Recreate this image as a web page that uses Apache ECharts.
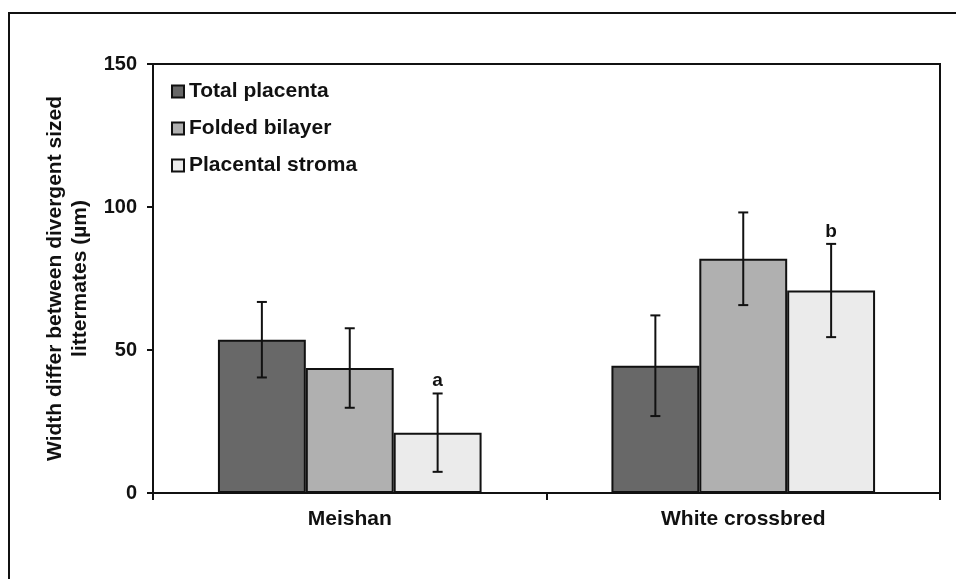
<!DOCTYPE html>
<html>
<head>
<meta charset="utf-8">
<script src="https://cdn.jsdelivr.net/npm/echarts@6/dist/echarts.min.js"></script>
<style>html,body{margin:0;padding:0;background:#fff}#c{width:956px;height:579px}</style>
</head>
<body>
<div id="c"></div>
<script>
var categories = ['Meishan', 'White crossbred'];
var seriesNames = ['Total placenta', 'Folded bilayer', 'Placental stroma'];
var totalPlacenta = [53.6, 44.5];
var totalPlacentaErr = [13.2, 17.6];
var foldedBilayer = [43.7, 81.9];
var foldedBilayerErr = [13.9, 16.2];
var placentalStroma = [21.1, 70.8];
var placentalStromaErr = [13.7, 16.3];
var stromaLetters = ['a', 'b'];
var yTicks = [0, 50, 100, 150];

var colors = ['#686868', '#b0b0b0', '#ebebeb'];
var values = [totalPlacenta, foldedBilayer, placentalStroma];
var errs = [totalPlacentaErr, foldedBilayerErr, placentalStromaErr];
var letters = [['', ''], ['', ''], stromaLetters];
var catGap = 0.33;
var font = 'Liberation Sans, Arial, sans-serif';

var series = [];
values.forEach(function (vals, si) {
  series.push({
    name: seriesNames[si],
    type: 'bar',
    data: vals,
    barGap: '0%',
    barCategoryGap: (catGap * 100) + '%',
    itemStyle: { color: colors[si], borderColor: '#111', borderWidth: 2 }
  });
});
values.forEach(function (vals, si) {
  var data = vals.map(function (v, i) { return [i, v, errs[si][i], letters[si][i]]; });
  series.push({
    type: 'custom',
    z: 10,
    silent: true,
    data: data,
    renderItem: function (params, api) {
      var idx = api.value(0);
      var v = api.value(1);
      var e = api.value(2);
      var band = api.size([1, 0])[0];
      var bw = band * (1 - catGap) / 3;
      var c = api.coord([idx, v]);
      var x = c[0] + (si - 1) * bw;
      var top = api.coord([idx, v + e])[1];
      var bot = api.coord([idx, v - e])[1];
      var cap = 5;
      var st = { stroke: '#111', lineWidth: 2 };
      var children = [
        { type: 'line', shape: { x1: x, y1: top, x2: x, y2: bot }, style: st },
        { type: 'line', shape: { x1: x - cap, y1: top, x2: x + cap, y2: top }, style: st },
        { type: 'line', shape: { x1: x - cap, y1: bot, x2: x + cap, y2: bot }, style: st }
      ];
      var lab = data[params.dataIndex][3];
      if (lab) {
        children.push({
          type: 'text',
          style: { text: lab, x: x, y: top - 3, align: 'center', verticalAlign: 'bottom',
                   font: 'bold 19px ' + font, fill: '#111' }
        });
      }
      return { type: 'group', children: children };
    }
  });
});

var chart = echarts.init(document.getElementById('c'), null, { renderer: 'canvas' });
chart.setOption({
  backgroundColor: '#fff',
  animation: false,
  graphic: [{
    type: 'rect', z: 100, silent: true,
    shape: { x: 9, y: 13, width: 980, height: 600 },
    style: { fill: 'none', stroke: '#111', lineWidth: 2 }
  }],
  grid: { left: 153, right: 16, top: 64, bottom: 86, show: true, borderColor: '#111', borderWidth: 2, backgroundColor: 'transparent' },
  legend: {
    orient: 'vertical', left: 166, top: 76,
    data: seriesNames,
    icon: 'rect', itemWidth: 12, itemHeight: 12, itemGap: 16,
    textStyle: { fontFamily: font, fontWeight: 'bold', fontSize: 21, color: '#111', lineHeight: 20 }
  },
  xAxis: {
    type: 'category', data: categories,
    axisLine: { lineStyle: { color: '#111', width: 2 } },
    axisTick: { show: true, length: 7, lineStyle: { color: '#111', width: 2 } },
    axisLabel: { fontFamily: font, fontWeight: 'bold', fontSize: 21, color: '#111', margin: 16 },
    splitLine: { show: false }
  },
  yAxis: {
    type: 'value', min: yTicks[0], max: yTicks[yTicks.length - 1], interval: 50,
    name: 'Width differ between divergent sized\nlittermates (µm)',
    nameLocation: 'middle', nameGap: 60,
    nameTextStyle: { fontFamily: font, fontWeight: 'bold', fontSize: 21, color: '#111', lineHeight: 25 },
    axisLine: { show: true, lineStyle: { color: '#111', width: 2 } },
    axisTick: { show: true, length: 6, lineStyle: { color: '#111', width: 2 } },
    axisLabel: { fontFamily: font, fontWeight: 'bold', fontSize: 20, color: '#111', margin: 16 },
    splitLine: { show: false }
  },
  series: series
});
</script>
</body>
</html>
